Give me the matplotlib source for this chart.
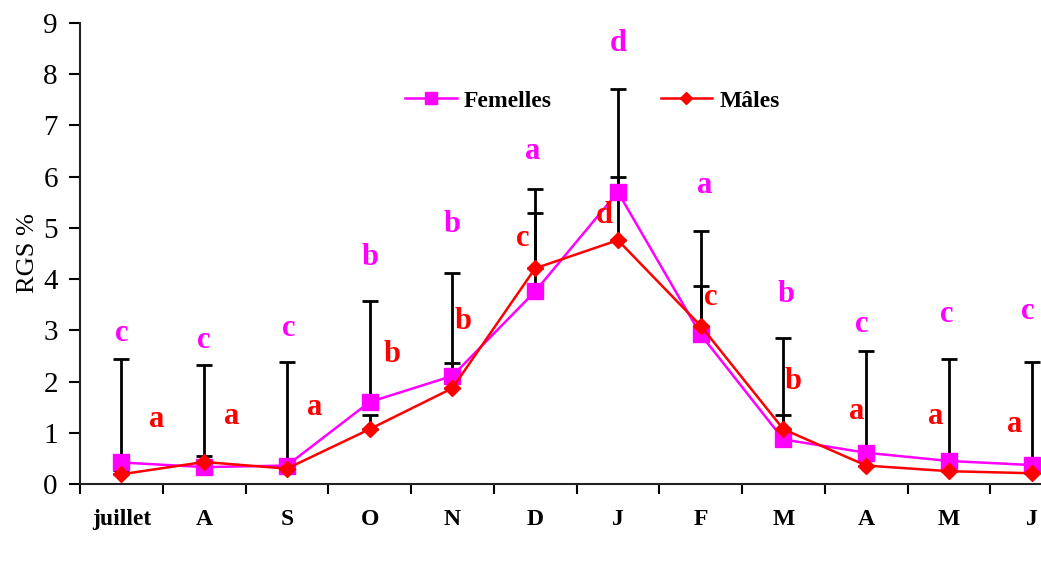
import numpy as np
import matplotlib
matplotlib.use('Agg')
import matplotlib.pyplot as plt
from matplotlib.ticker import FixedLocator

plt.rcParams['font.family'] = ['Liberation Serif', 'DejaVu Serif']

# Données
mois = ['juillet', 'A', 'S', 'O', 'N', 'D', 'J', 'F', 'M', 'A', 'M', 'J']
femelles = [0.42, 0.33, 0.36, 1.60, 2.11, 3.76, 5.70, 2.92, 0.87, 0.61, 0.45, 0.37]
males = [0.19, 0.43, 0.30, 1.07, 1.87, 4.21, 4.76, 3.09, 1.07, 0.36, 0.25, 0.21]
err_femelles = [2.02, 2.00, 2.02, 1.98, 2.00, 2.00, 2.02, 2.01, 1.99, 1.99, 1.99, 2.02]
err_males = [0.08, 0.12, 0.08, 0.28, 0.49, 1.09, 1.24, 0.78, 0.28, 0.12, 0.08, 0.08]
lettres_f = ['c', 'c', 'c', 'b', 'b', 'a', 'd', 'a', 'b', 'c', 'c', 'c']
lettres_m = ['a', 'a', 'a', 'b', 'b', 'c', 'd', 'c', 'b', 'a', 'a', 'a']

# position des lettres (x décalé, y)
pos_f = [(0.0, 2.93), (0.0, 2.81), (0.02, 3.04), (0.0, 4.43), (0.0, 5.06), (-0.03, 6.49),
         (0.0, 8.60), (0.05, 5.83), (0.03, 3.69), (-0.05, 3.11), (-0.03, 3.30), (-0.05, 3.37)]
pos_m = [(0.43, 1.26), (0.33, 1.31), (0.34, 1.50), (0.27, 2.53), (0.13, 3.18), (-0.15, 4.80),
         (-0.16, 5.25), (0.12, 3.64), (0.12, 2.01), (-0.11, 1.41), (-0.16, 1.31), (-0.20, 1.17)]

x = np.arange(len(mois))
rose = '#ff00ff'
rouge = '#ff0000'

fig = plt.figure(figsize=(10.41, 5.65), dpi=100)
ax = fig.add_axes([80 / 1041, 81 / 565, 993 / 1041, 461 / 565])

# barres d'erreur (vers le haut seulement)
ax.errorbar(x, femelles, yerr=[np.zeros(len(x)), err_femelles], fmt='none',
            ecolor='black', elinewidth=2, capsize=6, capthick=2, zorder=1)
ax.errorbar(x, males, yerr=[np.zeros(len(x)), err_males], fmt='none',
            ecolor='black', elinewidth=2, capsize=6, capthick=2, zorder=1)

ax.plot(x, femelles, color=rose, lw=1.8, marker='s', ms=11.5, label='Femelles', zorder=3)
ax.plot(x, males, color=rouge, lw=1.8, marker='D', ms=8.5, label='Mâles', zorder=4)

for i in range(len(x)):
    ax.text(x[i] + pos_f[i][0], pos_f[i][1], lettres_f[i], color=rose, fontsize=22,
            fontweight='bold', ha='center', va='center')
    ax.text(x[i] + pos_m[i][0], pos_m[i][1], lettres_m[i], color=rouge, fontsize=22,
            fontweight='bold', ha='center', va='center')

ax.set_xlim(-0.5, 11.5)
ax.set_ylim(0, 9)
ax.set_yticks(range(10))
ax.set_xticks(x)
ax.set_xticklabels(mois, fontsize=17, fontweight='bold')
ax.xaxis.set_minor_locator(FixedLocator(np.arange(-0.5, 12, 1)))
ax.tick_params(axis='x', which='major', length=0, pad=18)
ax.tick_params(axis='x', which='minor', length=7, width=1.5, direction='out')
ax.tick_params(axis='y', length=8, width=1.5, labelsize=21, pad=8)
ax.set_ylabel('RGS %', fontsize=19, labelpad=3)

for s in ['top', 'right']:
    ax.spines[s].set_visible(False)
for s in ['left', 'bottom']:
    ax.spines[s].set_linewidth(1.5)
    ax.spines[s].set_color('#222222')

ax.legend(loc='center', bbox_to_anchor=(0.516, 0.831), ncol=2, frameon=False,
          prop={'size': 17, 'weight': 'bold'}, handlelength=2.2, columnspacing=4.6,
          handletextpad=0.3, markerscale=0.7)

fig.savefig('out.png', dpi=100)
